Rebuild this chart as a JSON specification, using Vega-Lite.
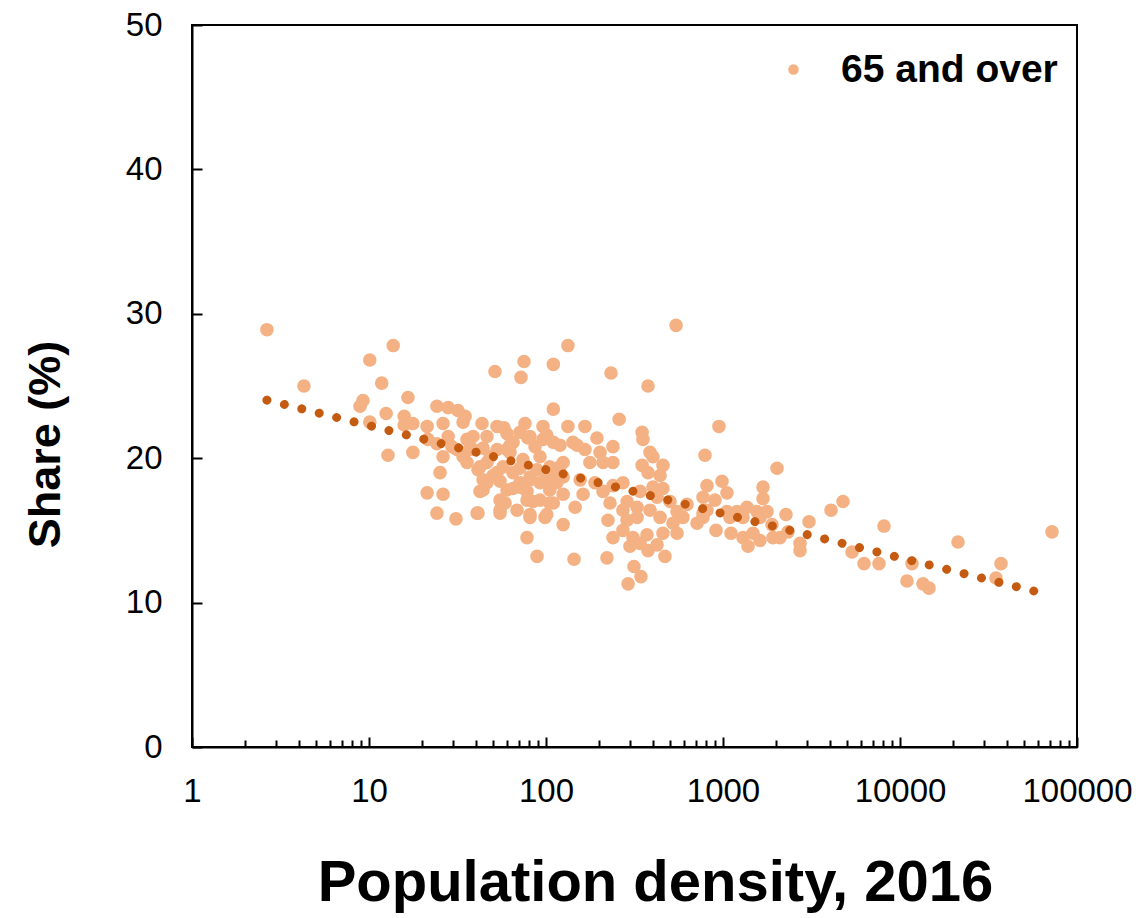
{
  "$schema": "https://vega.github.io/schema/vega-lite/v6.json",
  "width": 885,
  "height": 722,
  "autosize": "none",
  "padding": {"left": 192, "top": 25, "right": 62, "bottom": 171},
  "background": "white",
  "config": {
    "view": {"stroke": "black", "strokeWidth": 2},
    "font": "Liberation Sans"
  },
  "datasets": {
    "points": [
      {"density": 2.65, "share": 28.9}, {"density": 13.7, "share": 27.8}, {"density": 10.1, "share": 26.8},
      {"density": 4.29, "share": 25.0}, {"density": 11.8, "share": 25.2}, {"density": 16.6, "share": 24.2},
      {"density": 9.25, "share": 24.0}, {"density": 8.9, "share": 23.6}, {"density": 12.5, "share": 23.1},
      {"density": 15.8, "share": 22.9}, {"density": 17.7, "share": 22.4}, {"density": 15.8, "share": 22.3},
      {"density": 10.1, "share": 22.5}, {"density": 21.3, "share": 22.2}, {"density": 24.2, "share": 23.6},
      {"density": 28.0, "share": 23.5}, {"density": 31.8, "share": 23.3}, {"density": 34.9, "share": 22.9},
      {"density": 34.0, "share": 22.5}, {"density": 26.2, "share": 22.4}, {"density": 21.5, "share": 21.3},
      {"density": 24.2, "share": 21.0}, {"density": 28.0, "share": 21.5}, {"density": 29.4, "share": 20.8},
      {"density": 35.8, "share": 21.3}, {"density": 38.7, "share": 21.5}, {"density": 12.8, "share": 20.2},
      {"density": 17.7, "share": 20.4}, {"density": 26.2, "share": 20.1}, {"density": 34.0, "share": 20.1},
      {"density": 35.8, "share": 19.7}, {"density": 25.2, "share": 19.0}, {"density": 21.3, "share": 17.6},
      {"density": 26.2, "share": 17.5}, {"density": 24.2, "share": 16.2}, {"density": 31.0, "share": 15.8},
      {"density": 40.8, "share": 16.2}, {"density": 42.4, "share": 17.7}, {"density": 41.3, "share": 19.2},
      {"density": 133, "share": 27.8}, {"density": 75.1, "share": 26.7}, {"density": 110, "share": 26.5},
      {"density": 51.5, "share": 26.0}, {"density": 72.2, "share": 25.6}, {"density": 110, "share": 23.4},
      {"density": 43.5, "share": 22.4}, {"density": 52.9, "share": 22.2}, {"density": 57.9, "share": 22.1},
      {"density": 76.1, "share": 22.4}, {"density": 71.3, "share": 21.8}, {"density": 96.2, "share": 22.2},
      {"density": 101, "share": 21.6}, {"density": 133, "share": 22.2}, {"density": 46.4, "share": 21.5},
      {"density": 62.6, "share": 20.9}, {"density": 79.1, "share": 21.4}, {"density": 86.7, "share": 20.8},
      {"density": 110, "share": 21.1}, {"density": 120, "share": 20.9}, {"density": 34.9, "share": 20.4},
      {"density": 44.1, "share": 20.7}, {"density": 52.9, "share": 20.6}, {"density": 62.6, "share": 20.4},
      {"density": 46.4, "share": 19.7}, {"density": 57.2, "share": 19.4}, {"density": 71.3, "share": 19.3},
      {"density": 89.0, "share": 19.2}, {"density": 120, "share": 19.4}, {"density": 50.2, "share": 18.8},
      {"density": 65.1, "share": 19.0}, {"density": 81.2, "share": 18.7}, {"density": 101, "share": 18.7},
      {"density": 125, "share": 18.7}, {"density": 44.1, "share": 18.5}, {"density": 55.0, "share": 18.4},
      {"density": 71.3, "share": 18.3}, {"density": 92.5, "share": 18.3}, {"density": 115, "share": 18.3},
      {"density": 44.1, "share": 17.8}, {"density": 60.2, "share": 17.8}, {"density": 65.1, "share": 17.9},
      {"density": 78.1, "share": 17.7}, {"density": 105, "share": 17.8}, {"density": 125, "share": 17.5},
      {"density": 84.5, "share": 17.0}, {"density": 58.7, "share": 16.9}, {"density": 105, "share": 16.9},
      {"density": 55.0, "share": 16.2}, {"density": 68.6, "share": 16.4}, {"density": 81.2, "share": 15.9},
      {"density": 98.7, "share": 15.9}, {"density": 125, "share": 15.4}, {"density": 78.1, "share": 14.5},
      {"density": 89.0, "share": 13.2}, {"density": 543, "share": 29.2}, {"density": 233, "share": 25.9},
      {"density": 377, "share": 25.0}, {"density": 259, "share": 22.7}, {"density": 166, "share": 22.2},
      {"density": 349, "share": 21.8}, {"density": 353, "share": 21.3}, {"density": 142, "share": 21.1},
      {"density": 150, "share": 20.9}, {"density": 194, "share": 21.4}, {"density": 239, "share": 20.8},
      {"density": 166, "share": 20.6}, {"density": 202, "share": 20.4}, {"density": 387, "share": 20.4},
      {"density": 402, "share": 20.1}, {"density": 125, "share": 19.7}, {"density": 177, "share": 19.7},
      {"density": 210, "share": 19.7}, {"density": 239, "share": 19.7}, {"density": 349, "share": 19.5},
      {"density": 458, "share": 19.5}, {"density": 377, "share": 19.0}, {"density": 441, "share": 18.8},
      {"density": 156, "share": 18.5}, {"density": 189, "share": 18.3}, {"density": 239, "share": 18.1},
      {"density": 272, "share": 18.3}, {"density": 402, "share": 18.0}, {"density": 458, "share": 17.9},
      {"density": 791, "share": 20.2}, {"density": 812, "share": 18.1}, {"density": 162, "share": 17.5},
      {"density": 210, "share": 17.7}, {"density": 340, "share": 17.7}, {"density": 424, "share": 17.3},
      {"density": 502, "share": 17.0}, {"density": 626, "share": 16.8}, {"density": 771, "share": 17.3},
      {"density": 230, "share": 16.9}, {"density": 287, "share": 17.0}, {"density": 146, "share": 16.6},
      {"density": 272, "share": 16.4}, {"density": 327, "share": 16.6}, {"density": 387, "share": 16.4},
      {"density": 441, "share": 15.9}, {"density": 550, "share": 16.3}, {"density": 594, "share": 15.9},
      {"density": 713, "share": 15.5}, {"density": 812, "share": 16.4}, {"density": 224, "share": 15.7},
      {"density": 287, "share": 15.7}, {"density": 327, "share": 15.9}, {"density": 522, "share": 15.5},
      {"density": 272, "share": 15.0}, {"density": 239, "share": 14.5}, {"density": 310, "share": 14.5},
      {"density": 372, "share": 14.7}, {"density": 458, "share": 14.8}, {"density": 550, "share": 14.8},
      {"density": 298, "share": 13.9}, {"density": 340, "share": 14.1}, {"density": 377, "share": 13.6},
      {"density": 424, "share": 14.0}, {"density": 470, "share": 13.2}, {"density": 144, "share": 13.0},
      {"density": 221, "share": 13.1}, {"density": 314, "share": 12.5}, {"density": 344, "share": 11.8},
      {"density": 291, "share": 11.3}, {"density": 949, "share": 22.2}, {"density": 2019, "share": 19.3},
      {"density": 987, "share": 18.4}, {"density": 1053, "share": 17.6}, {"density": 1683, "share": 18.0},
      {"density": 1683, "share": 17.2}, {"density": 901, "share": 17.1}, {"density": 4764, "share": 17.0},
      {"density": 4076, "share": 16.4}, {"density": 1053, "share": 16.3}, {"density": 1200, "share": 16.3},
      {"density": 1366, "share": 16.6}, {"density": 1556, "share": 16.3}, {"density": 1773, "share": 16.3},
      {"density": 771, "share": 16.2}, {"density": 771, "share": 15.9}, {"density": 1095, "share": 15.9},
      {"density": 1297, "share": 15.9}, {"density": 1618, "share": 15.9}, {"density": 2269, "share": 16.1},
      {"density": 1891, "share": 15.4}, {"density": 2329, "share": 14.9}, {"density": 3061, "share": 15.6},
      {"density": 8120, "share": 15.3}, {"density": 913, "share": 15.0}, {"density": 1110, "share": 14.8},
      {"density": 1297, "share": 14.5}, {"density": 1477, "share": 14.8}, {"density": 1618, "share": 14.3},
      {"density": 1916, "share": 14.5}, {"density": 2099, "share": 14.5}, {"density": 1384, "share": 13.9},
      {"density": 2723, "share": 14.1}, {"density": 2723, "share": 13.6}, {"density": 5356, "share": 13.5},
      {"density": 6262, "share": 12.7}, {"density": 7609, "share": 12.7}, {"density": 11690, "share": 12.7},
      {"density": 21270, "share": 14.2}, {"density": 72250, "share": 14.9}, {"density": 37210, "share": 12.7},
      {"density": 34860, "share": 11.7}, {"density": 10950, "share": 11.5}, {"density": 13490, "share": 11.3},
      {"density": 14580, "share": 11.0},
      {"density": 60.2, "share": 21.7}, {"density": 81.2, "share": 21.5}, {"density": 65.1, "share": 21.1},
      {"density": 96.2, "share": 21.3}, {"density": 31.4, "share": 20.6}, {"density": 38.7, "share": 20.6},
      {"density": 48.3, "share": 20.1}, {"density": 60.2, "share": 20.6}, {"density": 74.1, "share": 19.9},
      {"density": 92.5, "share": 20.1}, {"density": 105, "share": 19.4}, {"density": 42.4, "share": 19.4},
      {"density": 52.9, "share": 19.0}, {"density": 81.2, "share": 18.5}, {"density": 46.4, "share": 18.3},
      {"density": 71.3, "share": 18.0}, {"density": 101, "share": 18.3}, {"density": 115, "share": 18.7},
      {"density": 55.0, "share": 17.1}, {"density": 78.1, "share": 17.1}, {"density": 92.5, "share": 17.1},
      {"density": 110, "share": 16.9}, {"density": 41.3, "share": 16.2}, {"density": 55.0, "share": 16.4},
      {"density": 81.2, "share": 16.1}, {"density": 101, "share": 16.1}
    ],
    "trend": [
      {"density": 2.65, "share": 24.02},
      {"density": 60220, "share": 10.73}
    ]
  },
  "layer": [
    {
      "data": {"name": "points"},
      "mark": {"type": "circle", "size": 185, "opacity": 1},
      "encoding": {
        "x": {
          "field": "density",
          "type": "quantitative",
          "scale": {"type": "log", "domain": [1, 100000]},
          "axis": {
            "values": [1,2,3,4,5,6,7,8,9,10,20,30,40,50,60,70,80,90,100,200,300,400,500,600,700,800,900,1000,2000,3000,4000,5000,6000,7000,8000,9000,10000,20000,30000,40000,50000,60000,70000,80000,90000,100000],
            "labelExpr": "indexof([1,10,100,1000,10000,100000], datum.value) >= 0 ? format(datum.value, 'd') : ''",
            "tickSize": {"condition": {"test": "indexof([1,10,100,1000,10000,100000], datum.value) >= 0", "value": -10}, "value": -7},
            "tickColor": "black",
            "tickWidth": 2,
            "domainColor": "black",
            "domainWidth": 2,
            "grid": false,
            "labelFontSize": 33,
            "labelColor": "black",
            "labelPadding": 38,
            "labelFlush": false,
            "labelOverlap": false,
            "title": "Population density, 2016",
            "titleFontSize": 58,
            "titleFontWeight": "bold",
            "titleColor": "black",
            "titleX": 463,
            "titleY": 153,
            "titleBaseline": "alphabetic"
          }
        },
        "y": {
          "field": "share",
          "type": "quantitative",
          "scale": {"domain": [0, 50]},
          "axis": {
            "values": [0, 10, 20, 30, 40, 50],
            "tickSize": -10,
            "tickColor": "black",
            "tickWidth": 2,
            "domainColor": "black",
            "domainWidth": 2,
            "grid": false,
            "labelFontSize": 33,
            "labelColor": "black",
            "labelPadding": 40,
            "title": "Share (%)",
            "titleFontSize": 45,
            "titleFontWeight": "bold",
            "titleColor": "black",
            "titleX": -147,
            "titleY": 419,
            "titleAngle": 270,
            "titleBaseline": "middle",
            "titleAlign": "center"
          }
        },
        "color": {
          "datum": "65 and over",
          "type": "nominal",
          "scale": {"range": ["#F4B183"]},
          "legend": {
            "title": null,
            "orient": "none",
            "legendX": 582,
            "legendY": 25,
            "symbolType": "circle",
            "symbolSize": 110,
            "symbolStrokeWidth": 0,
            "labelFontSize": 39,
            "labelFontWeight": "bold",
            "labelColor": "black",
            "labelOffset": 28,
            "labelLimit": 400
          }
        }
      }
    },
    {
      "data": {"name": "trend"},
      "mark": {"type": "line", "color": "#C55A11", "strokeWidth": 9, "strokeCap": "round", "strokeDash": [0.01, 17.95]},
      "encoding": {
        "x": {"field": "density", "type": "quantitative"},
        "y": {"field": "share", "type": "quantitative"}
      }
    }
  ]
}
